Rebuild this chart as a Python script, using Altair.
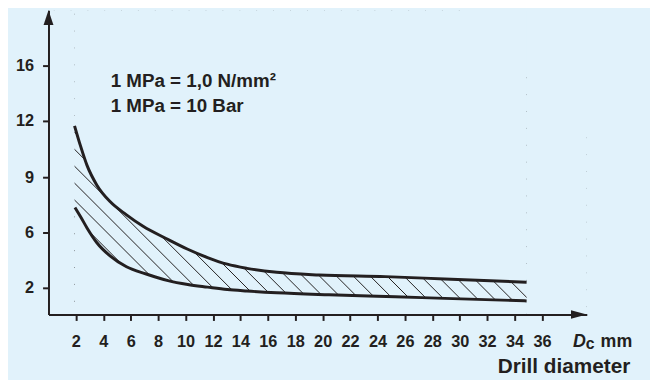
import altair as alt
import pandas as pd
import numpy as np

# ---- data ----
upper_x = [1.90, 2.33, 2.81, 3.53, 4.49, 5.69, 6.90, 8.58, 10.16, 11.60, 13.04, 14.48, 16.65, 19.74, 24.57, 28.90, 34.88]
upper_y = [11.74, 10.68, 9.63, 8.57, 7.68, 6.96, 6.34, 5.57, 4.79, 4.19, 3.71, 3.41, 3.12, 2.93, 2.81, 2.64, 2.41]
lower_x = [1.93, 2.33, 2.81, 3.53, 4.49, 5.69, 7.13, 8.72, 10.16, 11.60, 13.04, 14.48, 16.65, 20.46, 25.29, 28.90, 34.88]
lower_y = [7.36, 6.87, 6.25, 5.26, 4.31, 3.52, 3.00, 2.52, 2.24, 2.05, 1.87, 1.76, 1.63, 1.48, 1.33, 1.21, 1.02]
x_ticks = list(range(2, 37, 2))
y_ticks = [2, 6, 9, 12, 16]
note_lines = ["1 MPa = 1,0 N/mm²", "1 MPa = 10 Bar"]

# ---- styling / layout ----
BG = "#e1f2fb"
DARK = "#231f20"
FONT = "Liberation Sans"
W, H = 545, 308
X_MAX = 39.27
Y_DOMAIN = [0, 2, 6, 9, 12, 16, 20]
Y_RANGE = [308, 281, 225, 169, 112, 56, 0]
HATCH_STEP = 17.1      # px between hatch lines
HATCH_OFFSET = 73.7    # px

xs = alt.Scale(domain=[0, X_MAX], nice=False, zero=False)
ys = alt.Scale(domain=Y_DOMAIN, range=Y_RANGE, nice=False, zero=False)

common_axis = dict(tickSize=6, tickWidth=2, tickColor=DARK, domainColor=DARK, domainWidth=2,
                   labelFont=FONT, labelFontSize=16.5, labelFontWeight="bold", labelColor=DARK,
                   grid=False, title=None, zindex=1, labelOverlap=False)
xaxis = alt.Axis(values=x_ticks, labelPadding=13, labelFlush=False, **common_axis)
yaxis = alt.Axis(values=y_ticks, labelPadding=9, **common_axis)

def X(f):
    return alt.X(f, type="quantitative", scale=xs, axis=xaxis)

def Y(f):
    return alt.Y(f, type="quantitative", scale=ys, axis=yaxis)

up = pd.DataFrame({"x": upper_x, "y": upper_y, "top": Y_DOMAIN[-1]})
lo = pd.DataFrame({"x": lower_x, "y": lower_y, "bot": Y_DOMAIN[0]})

# hatch lines at 45 degrees in pixel space
px_per_unit = W / X_MAX
ks = np.arange(-20, 24)
c = HATCH_OFFSET - HATCH_STEP * ks
hatch = pd.DataFrame({"xt": c / px_per_unit, "xb": (c + H) / px_per_unit,
                      "yt": Y_DOMAIN[-1], "yb": Y_DOMAIN[0]})

hatch_layer = alt.Chart(hatch).mark_rule(color=DARK, strokeWidth=1, clip=True).encode(
    x=X("xt"), x2="xb", y=Y("yt"), y2="yb")

mask_up = alt.Chart(up).mark_area(color=BG, opacity=1, interpolate="monotone").encode(
    x=X("x"), y=Y("y"), y2="top")
mask_lo = alt.Chart(lo).mark_area(color=BG, opacity=1, interpolate="monotone").encode(
    x=X("x"), y=Y("y"), y2="bot")

side = pd.DataFrame({"x0": [0, max(upper_x)], "x1": [min(upper_x[0], lower_x[0]), X_MAX],
                     "y0": [Y_DOMAIN[0]] * 2, "y1": [Y_DOMAIN[-1]] * 2})
mask_side = alt.Chart(side).mark_rect(color=BG, opacity=1).encode(
    x=X("x0"), x2="x1", y=Y("y0"), y2="y1")

line_up = alt.Chart(up).mark_line(color=DARK, strokeWidth=3, interpolate="monotone").encode(
    x=X("x"), y=Y("y"))
line_lo = alt.Chart(lo).mark_line(color=DARK, strokeWidth=3, interpolate="monotone").encode(
    x=X("x"), y=Y("y"))

arrow_df_y = pd.DataFrame({"x": [0], "y": [Y_DOMAIN[-1]]})
arrow_df_x = pd.DataFrame({"x": [X_MAX], "y": [Y_DOMAIN[0]]})
arrow_y = alt.Chart(arrow_df_y).mark_point(shape="M0,0L0.667,2L-0.667,2Z", size=225, filled=True,
                                             color=DARK, opacity=1).encode(x=X("x"), y=Y("y"))
arrow_x = alt.Chart(arrow_df_x).mark_point(shape="M0,0L-2,-0.55L-2,0.55Z", size=256, filled=True,
                                             color=DARK, opacity=1).encode(x=X("x"), y=Y("y"))

one = pd.DataFrame({"a": [0]})
note = alt.Chart(one).mark_text(text=note_lines, font=FONT, fontSize=19, fontWeight="bold",
                                color=DARK, align="left", baseline="alphabetic", lineHeight=25.3
                                ).encode(x=alt.value(63), y=alt.value(77.7))
d_lbl = alt.Chart(one).mark_text(text="D", font=FONT, fontSize=18, fontWeight="bold", fontStyle="italic",
                                 color=DARK, align="left", baseline="alphabetic"
                                 ).encode(x=alt.value(531), y=alt.value(340.7))
c_lbl = alt.Chart(one).mark_text(text="c", font=FONT, fontSize=16, fontWeight="bold",
                                 color=DARK, align="left", baseline="alphabetic"
                                 ).encode(x=alt.value(544), y=alt.value(343))
mm_lbl = alt.Chart(one).mark_text(text="mm", font=FONT, fontSize=18, fontWeight="bold",
                                  color=DARK, align="left", baseline="alphabetic"
                                  ).encode(x=alt.value(559), y=alt.value(340.7))
dd_lbl = alt.Chart(one).mark_text(text="Drill diameter", font=FONT, fontSize=21, fontWeight="bold",
                                  color=DARK, align="right", baseline="alphabetic"
                                  ).encode(x=alt.value(589), y=alt.value(367.7))

chart = alt.layer(hatch_layer, mask_up, mask_lo, mask_side, line_up, line_lo,
                  arrow_y, arrow_x, note, d_lbl, c_lbl, mm_lbl, dd_lbl).properties(
    width=W, height=H, background=BG,
    padding={"left": 41, "top": 0, "right": 64, "bottom": 64},
    autosize=alt.AutoSizeParams(type="none"),
).configure_view(stroke=None)

chart.save("out.html", embed_options={"renderer": "svg", "actions": False})
